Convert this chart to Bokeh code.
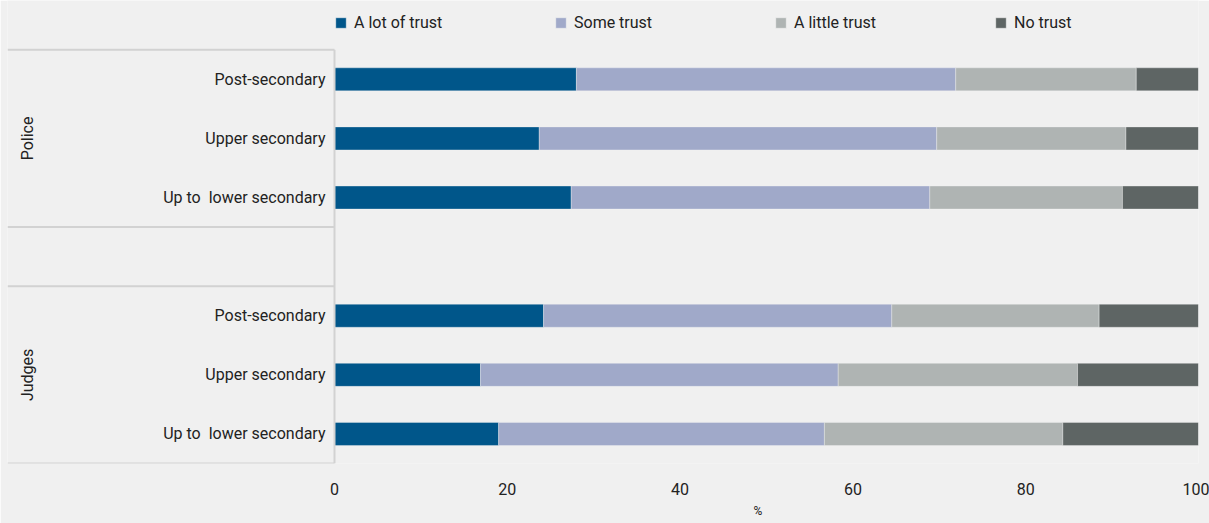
from bokeh.plotting import figure
from bokeh.models import Range1d, ColumnDataSource, FixedTicker, Legend, LegendItem, Title
from bokeh.embed import file_html
from bokeh.resources import INLINE
from bokeh.core.properties import value
import math

# ---------------- data ----------------
institutions = ["Police", "Judges"]
education = ["Post-secondary", "Upper secondary", "Up to  lower secondary"]
series = ["A lot of trust", "Some trust", "A little trust", "No trust"]

police_a_lot = [28.0, 23.7, 27.4]
police_some = [43.9, 46.0, 41.5]
police_little = [20.9, 21.9, 22.3]
police_none = [7.2, 8.4, 8.8]

judges_a_lot = [24.2, 16.9, 19.0]
judges_some = [40.3, 41.4, 37.7]
judges_little = [24.0, 27.7, 27.6]
judges_none = [11.5, 14.0, 15.7]

x_ticks = [0, 20, 40, 60, 80, 100]
x_label = "%"

colors = ["#00568a", "#a0a9c9", "#afb4b3", "#5e6564"]
FONT = "Roboto"
BG = "#f0f0f0"
TXT = "#222222"
LINE = "#d2d2d2"

# ---------------- layout of rows ----------------
n_slots = len(institutions) * (len(education) + 1) - 1
ys, labels, a_lot, some, little, none = [], [], [], [], [], []
group_spans = []
vals = {"Police": (police_a_lot, police_some, police_little, police_none),
        "Judges": (judges_a_lot, judges_some, judges_little, judges_none)}
for gi, inst in enumerate(institutions):
    g = []
    for ei, ed in enumerate(education):
        y = (n_slots - 1) - (gi * (len(education) + 1) + ei)
        ys.append(y)
        g.append(y)
        # keep the visible double space of the original label
        labels.append(ed.replace("  ", " \u00a0"))
        a, s, l, n = vals[inst]
        a_lot.append(a[ei]); some.append(s[ei]); little.append(l[ei]); none.append(n[ei])
    group_spans.append((inst, min(g) - 0.5, max(g) + 0.5, sum(g) / len(g)))

source = ColumnDataSource(dict(y=ys, label=labels, a=a_lot, s=some, l=little, n=none))

W, H = 1209, 523
PX_PER_UNIT = 8.64
x_start = -327 / PX_PER_UNIT
p = figure(width=W, height=H, x_range=Range1d(x_start, 100), y_range=Range1d(-0.5, 7.334),
           output_backend="svg", toolbar_location=None, y_axis_location=None,
           min_border_left=7, min_border_right=11, min_border_top=0, min_border_bottom=60)
p.background_fill_color = BG
p.border_fill_color = BG
p.outline_line_color = None
p.grid.visible = False

rs = p.hbar_stack(["a", "s", "l", "n"], y="y", height=0.39, color=colors, source=source,
                  line_color="#f4f4f4", line_width=0.6, line_alpha=0.6)

# category labels
p.text(x=0, y="y", text="label", source=source, x_offset=-9, text_align="right",
       text_baseline="middle", text_font=value(FONT), text_font_size=value("16px"),
       text_color=TXT)

# group frame lines and group labels
lx0, lx1, ly0, ly1 = [], [], [], []
for inst, lo, hi, mid in group_spans:
    for yy in (lo, hi):
        lx0.append(x_start); lx1.append(0); ly0.append(yy); ly1.append(yy)
    p.text(x=[x_start], y=[mid], text=[inst], x_offset=20, angle=math.pi / 2,
           text_align="center", text_baseline="middle", text_font=value(FONT),
           text_font_size=value("16px"), text_color=TXT)
lx0.append(0); lx1.append(0)
ly0.append(min(s[1] for s in group_spans)); ly1.append(max(s[2] for s in group_spans))
p.segment(x0=lx0, y0=ly0, x1=lx1, y1=ly1, line_color=LINE, line_width=2)

# axis
ax = p.xaxis[0]
ax.ticker = FixedTicker(ticks=x_ticks)
ax.axis_line_color = None
ax.major_tick_line_color = None
ax.minor_tick_line_color = None
ax.major_label_standoff = 13
ax.major_label_text_font = FONT
ax.major_label_text_font_size = "16px"
ax.major_label_text_color = TXT

# axis title centred under the 0-100 scale (offset from the frame's left edge)
centre_px = ((x_ticks[0] + x_ticks[-1]) / 2 - x_start) * PX_PER_UNIT
p.add_layout(Title(text=x_label, align="left", offset=centre_px - 13, standoff=8,
                   text_font=FONT, text_font_size="12px", text_font_style="normal",
                   text_color=TXT), "below")

# legend
items = [LegendItem(label=s, renderers=[r]) for s, r in zip(series, rs)]
legend = Legend(items=items, orientation="horizontal", location=(327, 431),
                padding=0, margin=0, spacing=10, label_width=190, label_standoff=7,
                glyph_width=13, glyph_height=13, label_text_font=FONT,
                label_text_font_size="16px", label_text_color=TXT,
                border_line_color=None, background_fill_alpha=0)
p.add_layout(legend, "center")

open("out.html", "w").write(file_html(p, INLINE))
